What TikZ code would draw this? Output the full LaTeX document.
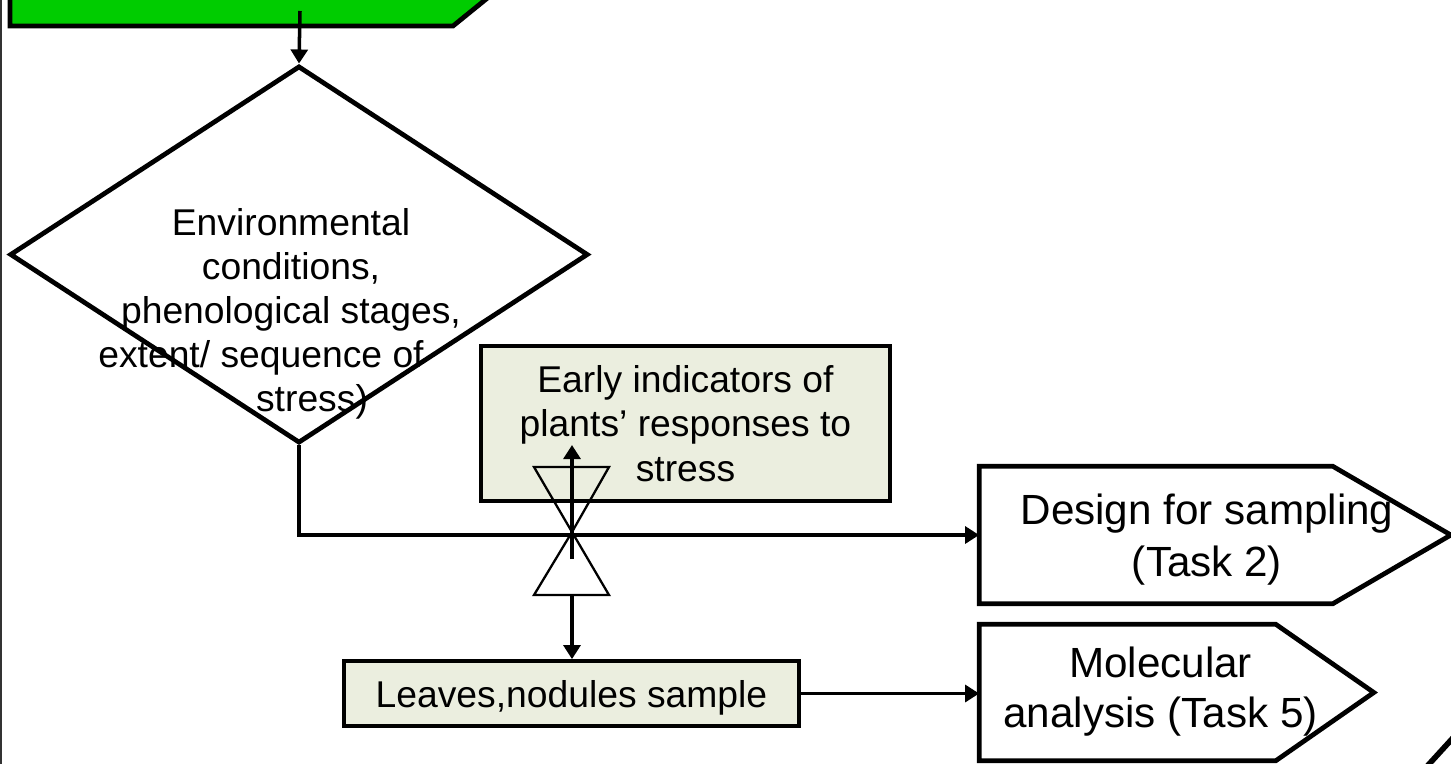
\documentclass[tikz,border=0pt]{standalone}
\usepackage{fontspec}
\setmainfont{Liberation Sans}
\usepackage{xcolor}
\usepackage{tikz}
\usetikzlibrary{positioning, calc, shapes.geometric, arrows.meta}

\definecolor{leafgreen}{HTML}{00CC00}
\definecolor{paleolive}{HTML}{EBEEDF}
\tikzset{
        flow/.style = {line width = 1pt, -{Triangle[length = 4pt, width = 4.8pt]}},
        thickedge/.style = {line width = 1.35pt, line join = miter},
        olivebox/.style = {draw, rectangle, fill = paleolive, line width = 1.05pt, align = center},
        valveline/.style = {line width = 0.65pt, line join = miter}
}

\begin{document}
\begin{tikzpicture}[x = 0.01cm, y = -0.01cm]
        \useasboundingbox (0,0) rectangle (1451,763);
        \clip (0,0) rectangle (1451,763);
        \fill [white] (0,0) rectangle (1451,763);
        \draw [line width = 0.6pt, black!80] (1,-10) -- (1,773);
        \draw [thickedge, fill = leafgreen] (10,-60) -- (10,26) -- (453,26) -- (559,-60);
        \coordinate (greenport) at (300,11);
        \node (envcond) [draw, diamond, thickedge, inner sep = 0pt, minimum width
        = 5.78cm, minimum height = 3.77cm] at (299,254.5) {};
        \node (envtext) [align = center, font = \fontsize{10.6}{12.5}\selectfont]
        at ($(envcond.center) + (-8,59)$) {Environmental\\conditions,\\phenological
        stages,\\extent/ sequence of\hspace{0.6cm}\mbox{}\\\hspace*{0.42cm}stress)};
        \draw [flow] (greenport) -- (envcond.north);
        \node (indicators) [olivebox, minimum width = 4.09cm, minimum height = 1.55cm,
        font = \fontsize{10.6}{12.6}\selectfont] at (685.5,423.5) {Early indicators
        of\\plants’ responses to\\stress};
        \node (leaves) [olivebox, minimum width = 4.55cm, minimum height = 0.65cm,
        text depth = 0pt, font = \fontsize{10.6}{12.6}\selectfont] at (571.5,693.5)
        {Leaves,nodules sample};
        \node (design) [minimum width = 4.70cm, minimum height = 1.36cm] at
        (1215,535) {};
        \draw [thickedge, fill = white] (design.north west) -- ([xshift =
        -1.18cm]design.north east) -- (design.east) -- ([xshift = -1.18cm]design.south
        east) -- (design.south west) -- cycle;
        \node (designtext) [align = center, font = \fontsize{12}{14.8}\selectfont] at
        ($(design.center) + (-8,5)$) {Design for sampling\\(Task 2)};
        \node (molecular) [minimum width = 3.93cm, minimum height = 1.35cm] at
        (1176.5,692.5) {};
        \draw [thickedge, fill = white] (molecular.north west) -- ([xshift =
        -0.98cm]molecular.north east) -- (molecular.east) -- ([xshift =
        -0.98cm]molecular.south east) -- (molecular.south west) -- cycle;
        \node (moleculartext) [align = center, font = \fontsize{12}{14.2}\selectfont]
        at ($(molecular.center) + (-16,-1)$) {Molecular\\analysis (Task 5)};
        \draw [flow] (envcond.south) |- (design.west);
        \coordinate (valve) at (572,532);
        \coordinate (valvebase) at (572,595);
        \coordinate (stem) at (572,559);
        \coordinate (stemtip) at (572,445);
        \draw [valveline] (valve) -- ++ (-38,-65) -- ++ (75,0) -- cycle;
        \draw [valveline] (valve) -- ++ (-38,63) -- ++ (75,0) -- cycle;
        \draw [flow, line width = 1.15pt] (stem) -- (stemtip);
        \draw [flow] (valvebase) -- (valvebase |- leaves.north);
        \draw [flow] (leaves.east) -- (leaves.east -| molecular.west);
        \draw [line width = 1.6pt] (1420,774) -- (1462,728);
\end{tikzpicture}
\end{document}
